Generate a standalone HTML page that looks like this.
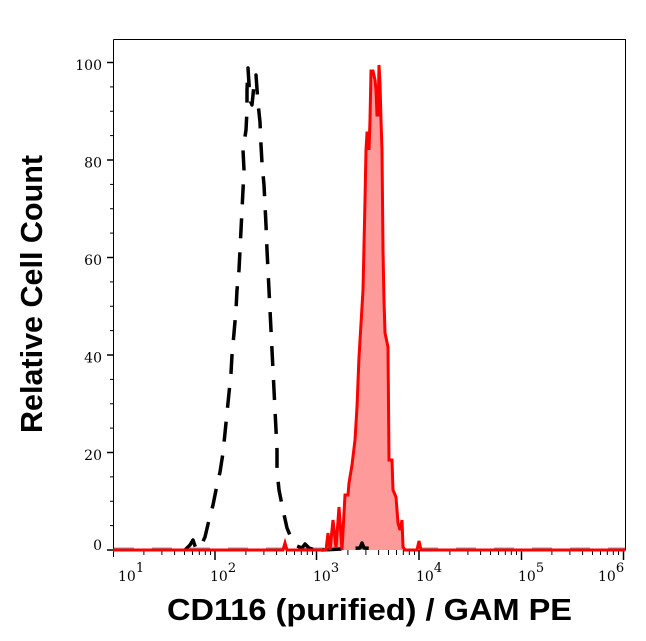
<!DOCTYPE html>
<html><head><meta charset="utf-8"><style>
html,body{margin:0;padding:0;background:#fff;}
svg{display:block;}
</style></head><body>
<svg width="646" height="641" viewBox="0 0 646 641" xmlns="http://www.w3.org/2000/svg">
<rect width="646" height="641" fill="#fff"/>
<!-- frame -->
<path d="M113.5 39.5 H625.5 V550.5 M113.5 39.5 V557" stroke="#000" stroke-width="1" fill="none"/>
<!-- y ticks -->
<g stroke="#000" stroke-width="1.5">
<line x1="107" y1="550" x2="113" y2="550"/>
<line x1="107" y1="452.5" x2="113" y2="452.5"/>
<line x1="107" y1="355" x2="113" y2="355"/>
<line x1="107" y1="257.5" x2="113" y2="257.5"/>
<line x1="107" y1="160" x2="113" y2="160"/>
<line x1="107" y1="62.5" x2="113" y2="62.5"/>
</g>
<g stroke="#000" stroke-width="1">
<line x1="110" y1="525.6" x2="113" y2="525.6"/>
<line x1="110" y1="501.25" x2="113" y2="501.25"/>
<line x1="110" y1="476.9" x2="113" y2="476.9"/>
<line x1="110" y1="428.1" x2="113" y2="428.1"/>
<line x1="110" y1="403.75" x2="113" y2="403.75"/>
<line x1="110" y1="379.4" x2="113" y2="379.4"/>
<line x1="110" y1="330.6" x2="113" y2="330.6"/>
<line x1="110" y1="306.25" x2="113" y2="306.25"/>
<line x1="110" y1="281.9" x2="113" y2="281.9"/>
<line x1="110" y1="233.1" x2="113" y2="233.1"/>
<line x1="110" y1="208.75" x2="113" y2="208.75"/>
<line x1="110" y1="184.4" x2="113" y2="184.4"/>
<line x1="110" y1="135.6" x2="113" y2="135.6"/>
<line x1="110" y1="111.25" x2="113" y2="111.25"/>
<line x1="110" y1="86.9" x2="113" y2="86.9"/>
</g>
<!-- y labels -->
<g font-family="'DejaVu Serif','Liberation Serif',serif" font-size="14" fill="#000" text-anchor="end">
<text x="102" y="550">0</text>
<text x="102" y="460">20</text>
<text x="102" y="362.5">40</text>
<text x="102" y="265">60</text>
<text x="102" y="167.5">80</text>
<text x="102" y="70">100</text>
</g>
<!-- x ticks -->
<g stroke="#000" stroke-width="1.5">
<line x1="215" y1="550" x2="215" y2="560"/>
<line x1="316.5" y1="550" x2="316.5" y2="560"/>
<line x1="419" y1="550" x2="419" y2="560"/>
<line x1="521.5" y1="550" x2="521.5" y2="560"/>
<line x1="623.5" y1="550" x2="623.5" y2="560"/>
</g>
<g stroke="#000" stroke-width="1" id="minor">
<line x1="143.9" y1="550" x2="143.9" y2="555"/>
<line x1="161.9" y1="550" x2="161.9" y2="555"/>
<line x1="174.6" y1="550" x2="174.6" y2="555"/>
<line x1="184.5" y1="550" x2="184.5" y2="555"/>
<line x1="192.5" y1="550" x2="192.5" y2="555"/>
<line x1="199.3" y1="550" x2="199.3" y2="555"/>
<line x1="205.3" y1="550" x2="205.3" y2="555"/>
<line x1="210.5" y1="550" x2="210.5" y2="555"/>
</g>
<use href="#minor" x="102"/>
<use href="#minor" x="204"/>
<use href="#minor" x="306"/>
<use href="#minor" x="408"/>
<!-- x labels -->
<g font-family="'DejaVu Serif','Liberation Serif',serif" font-size="14" fill="#000">
<text x="118" y="581">10<tspan font-size="13" dy="-9">1</tspan></text>
<text x="210" y="581">10<tspan font-size="13" dy="-9">2</tspan></text>
<text x="313" y="581">10<tspan font-size="13" dy="-9">3</tspan></text>
<text x="416" y="581">10<tspan font-size="13" dy="-9">4</tspan></text>
<text x="518" y="581">10<tspan font-size="13" dy="-9">5</tspan></text>
<text x="598" y="581">10<tspan font-size="13" dy="-9">6</tspan></text>
</g>
<!-- axis titles -->
<text x="167" y="620" font-family="'Liberation Sans',Arial,sans-serif" font-weight="bold" font-size="31" textLength="405" lengthAdjust="spacingAndGlyphs" fill="#000">CD116 (purified) / GAM PE</text>
<text transform="translate(42,433) rotate(-90)" x="0" y="0" font-family="'Liberation Sans',Arial,sans-serif" font-weight="bold" font-size="31" textLength="278" lengthAdjust="spacingAndGlyphs" fill="#000">Relative Cell Count</text>
<!-- black dashed baseline -->
<line x1="114" y1="548.5" x2="625" y2="548.5" stroke="#999" stroke-width="2" stroke-dasharray="20 18"/>
<!-- red filled histogram -->
<path d="M113 550 L283 550 L285 543 L287 550 L326 550 L328 533 L330 550 L333 520 L336 548 L339 507 L342 550 L345 495 L348 495 L349 483 L352 465 L355 440 L357 407 L359 357 L362 307 L363 290 L365 200 L366 150 L367 133 L369 133 L369 150 L370 120 L371 71 L373 71 L375 80 L376 90 L377 115 L378 115 L379 65 L380 83 L381 120 L382 150 L383 250 L384 300 L385 333 L388 347 L389 460 L392 460 L393 490 L396 497 L398 523 L400 530 L402 520 L403 547 L405 550 L417 550 L419 541 L421 550 L625 550 Z" fill="#ff9a9a" stroke="none"/>
<!-- black dashed curve -->
<path d="M185 550 L190 545 L193 540 L196 549 L200 548 L205 537 L209 520 L213 505 L216 490 L220 472 L223 453 L225 433 L227 413 L229 393 L231 373 L232 355 L234 333 L236 310 L237 290 L239 270 L240 250 L241 230 L242 210 L243 190 L244 170 L243 150 L246 130 L247 110 L247 90 L248 68 L250 100 L252 105 L254 85 L256 75 L258 103 L260 122 L261 145 L262 163 L264 185 L265 205 L266 225 L267 250 L268 270 L269 290 L270 310 L271 330 L272 350 L273 370 L274 390 L275 410 L276 430 L277 450 L277 470 L279 490 L283 510 L287 528 L292 540 L297 546 L302 548 L305 544 L309 548 L315 550 L318 545 L322 550 L360 548 L362 543 L364 548 L380 549" fill="none" stroke="#000" stroke-width="3.5" stroke-dasharray="20 14" stroke-linejoin="round"/>
<!-- red outline -->
<path d="M113 550 L283 550 L285 543 L287 550 L326 550 L328 533 L330 550 L333 520 L336 548 L339 507 L342 550 L345 495 L348 495 L349 483 L352 465 L355 440 L357 407 L359 357 L362 307 L363 290 L365 200 L366 150 L367 133 L369 133 L369 150 L370 120 L371 71 L373 71 L375 80 L376 90 L377 115 L378 115 L379 65 L380 83 L381 120 L382 150 L383 250 L384 300 L385 333 L388 347 L389 460 L392 460 L393 490 L396 497 L398 523 L400 530 L402 520 L403 547 L405 550 L417 550 L419 541 L421 550 L625 550" fill="none" stroke="#ff0000" stroke-width="3" stroke-linejoin="miter"/>
</svg>
</body></html>
